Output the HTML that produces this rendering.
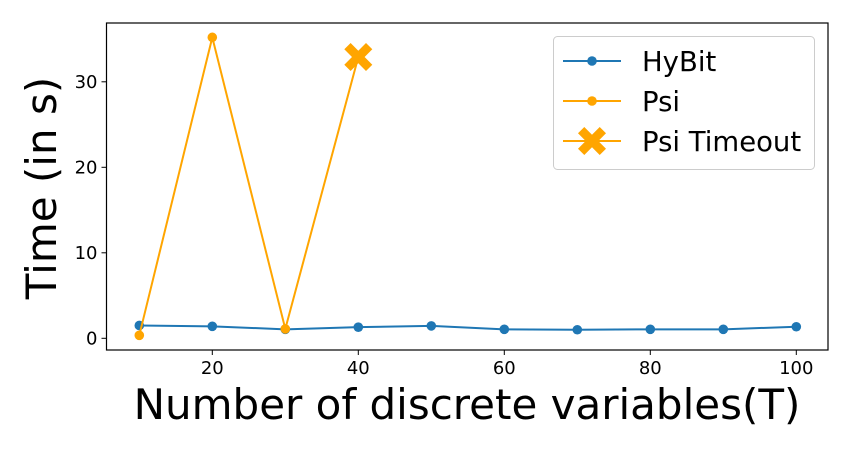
<!DOCTYPE html>
<html><head><meta charset="utf-8"><style>
body{margin:0;background:#fff;}
svg text{font-family:"DejaVu Sans","Liberation Sans",sans-serif;}
</style></head><body>
<svg id="c" width="850" height="450" xmlns="http://www.w3.org/2000/svg"></svg>
<script>
const xs=[10,20,30,40,50,60,70,80,90,100];
const hybit=[1.5,1.4,1.05,1.3,1.45,1.05,1.0,1.05,1.05,1.35];
const psiX=[10,20,30];
const psi=[0.35,35.2,1.1];
const timeoutX=[40];
const timeoutY=[32.9];
const xTicks=[20,40,60,80,100];
const yTicks=[0,10,20,30];
const L=106.5,R=828,T=23,B=350;
const X=v=>139.3+(v-10)*7.3;
const Y=v=>338.3-v*8.55;
const s=document.getElementById('c');const NS='http://www.w3.org/2000/svg';
function el(t,a,p){const e=document.createElementNS(NS,t);for(const k in a)e.setAttribute(k,a[k]);(p||s).appendChild(e);return e;}
let f=el('rect',{x:L,y:T,width:R-L,height:B-T,fill:'none',stroke:'#000','stroke-width':1.2});


xTicks.forEach(v=>{
 let l=el('line',{x1:X(v),x2:X(v),y1:B,y2:B+5,stroke:'#000'});
 
 
 let t=el('text',{x:X(v),y:B+24,'font-size':18,'text-anchor':'middle'});t.textContent=v;
 
 
});
yTicks.forEach(v=>{
 let l=el('line',{x1:L-5,x2:L,y1:Y(v),y2:Y(v),stroke:'#000'});
 
 
 let t=el('text',{x:L-9,y:Y(v)+6,'font-size':18,'text-anchor':'end'});t.textContent=v;
 
 
});
let xt=el('text',{x:467,y:419,'font-size':42,'text-anchor':'middle'});xt.textContent='Number of discrete variables(T)';


let yt=el('text',{x:0,y:0,'font-size':42,'text-anchor':'middle',transform:'translate(56,188) rotate(-90)'});yt.textContent='Time (in s)';


function series(xv,yv,col,name){
 let p=el('polyline',{points:xv.map((x,i)=>X(x)+','+Y(yv[i])).join(' '),fill:'none',stroke:col,'stroke-width':2});
 
 
 xv.forEach((x,i)=>{let c=el('circle',{cx:X(x),cy:Y(yv[i]),r:4.8,fill:col});
 
 });
}
series(xs,hybit,'#1f77b4','hybit');
series(psiX.concat(timeoutX),psi.concat(timeoutY),'#ffa500','psi');
s.lastChild.remove();
function cross(cx,cy,sz){
 const d=sz,w=sz*0.45;
 return el('path',{d:`M${cx-d},${cy-d+w}L${cx-d+w},${cy-d}L${cx},${cy-w}L${cx+d-w},${cy-d}L${cx+d},${cy-d+w}L${cx+w},${cy}L${cx+d},${cy+d-w}L${cx+d-w},${cy+d}L${cx},${cy+w}L${cx-d+w},${cy+d}L${cx-d},${cy+d-w}L${cx-w},${cy}Z`,fill:'#ffa500'});
}
timeoutX.forEach((x,i)=>{let c=cross(X(x),Y(timeoutY[i]),14);
 
 });
let lg=el('rect',{x:553.5,y:36.5,width:261,height:133,rx:4,fill:'#fff',stroke:'#ccc'});


const lgItems=[['HyBit','#1f77b4','c'],['Psi','#ffa500','c'],['Psi Timeout','#ffa500','x']];
lgItems.forEach((it,i)=>{
 const y=61+i*40;
 let l=el('line',{x1:563,x2:621,y1:y,y2:y,stroke:it[1],'stroke-width':2});
 
 
 let m=it[2]=='c'?el('circle',{cx:592,cy:y,r:4.8,fill:it[1]}):cross(592,y,14);
 
 
 let t=el('text',{x:642,y:y+10,'font-size':27.5});t.textContent=it[0];
 
 
});
</script>
</body></html>
